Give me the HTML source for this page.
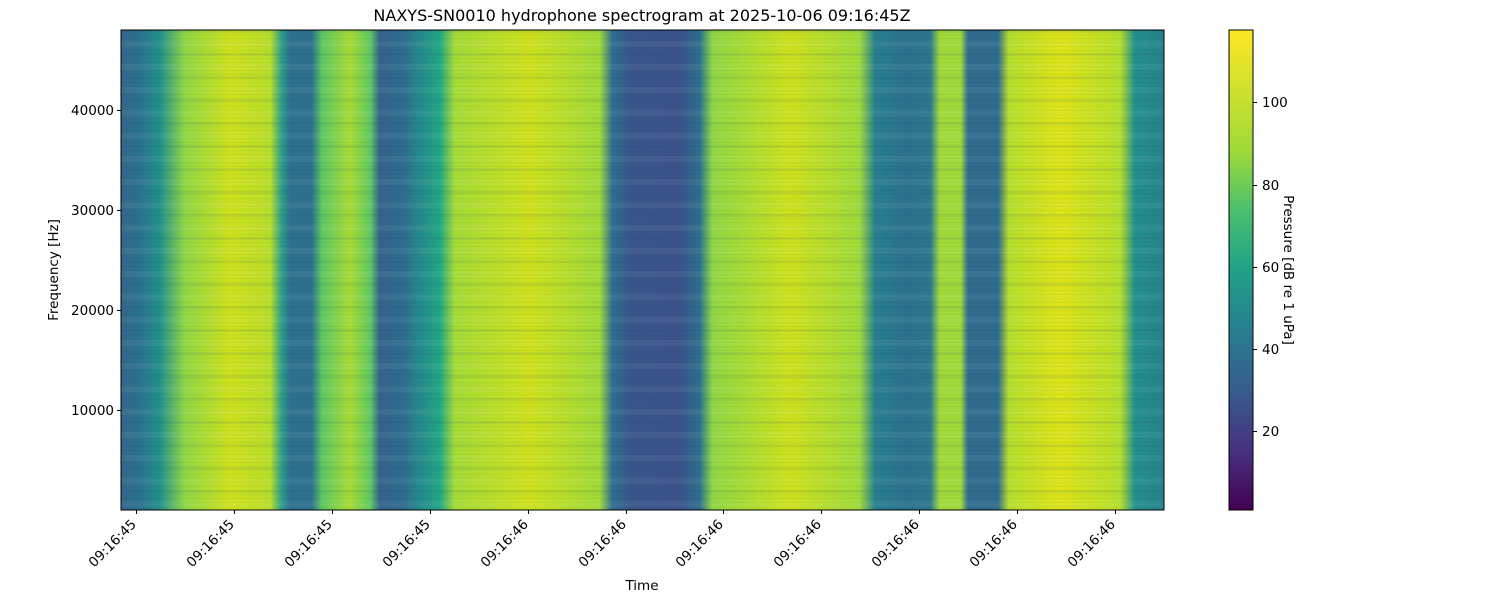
<!DOCTYPE html>
<html><head><meta charset="utf-8"><style>
body{margin:0;background:#fff;}
svg text{font-family:"DejaVu Sans","Liberation Sans",sans-serif;fill:#000;}
</style></head><body>
<svg width="1500" height="600" viewBox="0 0 1500 600" xmlns="http://www.w3.org/2000/svg">
<defs>
<linearGradient id="sp" x1="121" x2="1164" y1="0" y2="0" gradientUnits="userSpaceOnUse">
<stop offset="0" stop-color="#31688e"/>
<stop offset="0.018" stop-color="#2c728e"/>
<stop offset="0.037" stop-color="#21908d"/>
<stop offset="0.061" stop-color="#8fd744"/>
<stop offset="0.104" stop-color="#cde11d"/>
<stop offset="0.143" stop-color="#b8de29"/>
<stop offset="0.154" stop-color="#2a9f88"/>
<stop offset="0.162" stop-color="#2d718e"/>
<stop offset="0.183" stop-color="#2d718e"/>
<stop offset="0.193" stop-color="#5ec962"/>
<stop offset="0.220" stop-color="#a8db34"/>
<stop offset="0.239" stop-color="#5ec962"/>
<stop offset="0.248" stop-color="#33638d"/>
<stop offset="0.272" stop-color="#2e6e8e"/>
<stop offset="0.282" stop-color="#26828e"/>
<stop offset="0.306" stop-color="#22a884"/>
<stop offset="0.320" stop-color="#a5db36"/>
<stop offset="0.392" stop-color="#cde11d"/>
<stop offset="0.459" stop-color="#a0da39"/>
<stop offset="0.471" stop-color="#2d708e"/>
<stop offset="0.488" stop-color="#39568c"/>
<stop offset="0.536" stop-color="#3b528b"/>
<stop offset="0.555" stop-color="#2c718e"/>
<stop offset="0.567" stop-color="#8fd744"/>
<stop offset="0.641" stop-color="#cde11d"/>
<stop offset="0.708" stop-color="#9fda3a"/>
<stop offset="0.723" stop-color="#27808e"/>
<stop offset="0.752" stop-color="#2c728e"/>
<stop offset="0.776" stop-color="#2a788e"/>
<stop offset="0.785" stop-color="#9fda3a"/>
<stop offset="0.805" stop-color="#9fda3a"/>
<stop offset="0.812" stop-color="#2f6c8e"/>
<stop offset="0.841" stop-color="#2f6c8e"/>
<stop offset="0.851" stop-color="#b5de2b"/>
<stop offset="0.901" stop-color="#dde318"/>
<stop offset="0.958" stop-color="#b5de2b"/>
<stop offset="0.972" stop-color="#22908d"/>
<stop offset="1" stop-color="#26828e"/>
</linearGradient>
<pattern id="st" x="0" y="30" width="20" height="23" patternUnits="userSpaceOnUse">
<rect x="0" y="0" width="20" height="3" fill="#1f4e79" opacity="0.09"/>
<rect x="0" y="11" width="20" height="6" fill="#ffffff" opacity="0.05"/>
</pattern>
<pattern id="fn" x="0" y="30" width="20" height="4" patternUnits="userSpaceOnUse">
<rect x="0" y="0" width="20" height="1" fill="#000" opacity="0.04"/>
</pattern>
<linearGradient id="cb" x1="0" x2="0" y1="1" y2="0">
<stop offset="0" stop-color="#440154"/>
<stop offset="0.125" stop-color="#46327e"/>
<stop offset="0.25" stop-color="#365c8d"/>
<stop offset="0.375" stop-color="#277f8e"/>
<stop offset="0.5" stop-color="#1fa187"/>
<stop offset="0.625" stop-color="#4ac16d"/>
<stop offset="0.75" stop-color="#a0da39"/>
<stop offset="1" stop-color="#fde725"/>
</linearGradient>
</defs>
<text x="642" y="21" font-size="16" text-anchor="middle">NAXYS-SN0010 hydrophone spectrogram at 2025-10-06 09:16:45Z</text>
<rect x="121" y="30" width="1043" height="480" fill="url(#sp)"/>
<rect x="121" y="30" width="1043" height="480" fill="url(#st)"/>
<rect x="121" y="30" width="1043" height="480" fill="url(#fn)"/>
<rect x="121" y="30" width="1043" height="480" fill="none" stroke="#000" stroke-width="1"/>
<g stroke="#000" stroke-width="1">
<line x1="117" x2="121" y1="410.5" y2="410.5"/><line x1="117" x2="121" y1="310.5" y2="310.5"/>
<line x1="117" x2="121" y1="210.5" y2="210.5"/><line x1="117" x2="121" y1="110.5" y2="110.5"/>
</g>
<g font-size="13.5" text-anchor="end">
<text x="114" y="415">10000</text><text x="114" y="315">20000</text>
<text x="114" y="215">30000</text><text x="114" y="115">40000</text>
</g>
<text transform="translate(58,270) rotate(-90)" font-size="13.5" text-anchor="middle">Frequency [Hz]</text>
<g stroke="#000" stroke-width="1">
<line x1="136.5" x2="136.5" y1="510" y2="514"/><line x1="234.5" x2="234.5" y1="510" y2="514"/>
<line x1="332.5" x2="332.5" y1="510" y2="514"/><line x1="430.5" x2="430.5" y1="510" y2="514"/>
<line x1="528.5" x2="528.5" y1="510" y2="514"/><line x1="626.5" x2="626.5" y1="510" y2="514"/>
<line x1="723.5" x2="723.5" y1="510" y2="514"/><line x1="821.5" x2="821.5" y1="510" y2="514"/>
<line x1="919.5" x2="919.5" y1="510" y2="514"/><line x1="1017.5" x2="1017.5" y1="510" y2="514"/>
<line x1="1115.5" x2="1115.5" y1="510" y2="514"/>
</g>
<g font-size="13.5" text-anchor="end">
<text transform="translate(137,525) rotate(-45)">09:16:45</text>
<text transform="translate(235,525) rotate(-45)">09:16:45</text>
<text transform="translate(333,525) rotate(-45)">09:16:45</text>
<text transform="translate(431,525) rotate(-45)">09:16:45</text>
<text transform="translate(529,525) rotate(-45)">09:16:46</text>
<text transform="translate(627,525) rotate(-45)">09:16:46</text>
<text transform="translate(724,525) rotate(-45)">09:16:46</text>
<text transform="translate(822,525) rotate(-45)">09:16:46</text>
<text transform="translate(920,525) rotate(-45)">09:16:46</text>
<text transform="translate(1018,525) rotate(-45)">09:16:46</text>
<text transform="translate(1116,525) rotate(-45)">09:16:46</text>
</g>
<text x="642" y="590" font-size="13.5" text-anchor="middle">Time</text>
<rect x="1229" y="30" width="24" height="480" fill="url(#cb)" stroke="#000" stroke-width="1"/>
<g stroke="#000" stroke-width="1">
<line x1="1253" x2="1257" y1="102.5" y2="102.5"/><line x1="1253" x2="1257" y1="185.5" y2="185.5"/>
<line x1="1253" x2="1257" y1="267.5" y2="267.5"/><line x1="1253" x2="1257" y1="349.5" y2="349.5"/>
<line x1="1253" x2="1257" y1="431.5" y2="431.5"/>
</g>
<g font-size="13.5">
<text x="1262" y="107">100</text><text x="1262" y="190">80</text>
<text x="1262" y="272">60</text><text x="1262" y="354">40</text><text x="1262" y="436">20</text>
</g>
<text transform="translate(1284,270) rotate(90)" font-size="13.5" text-anchor="middle">Pressure [dB re 1 uPa]</text>
</svg>
</body></html>
